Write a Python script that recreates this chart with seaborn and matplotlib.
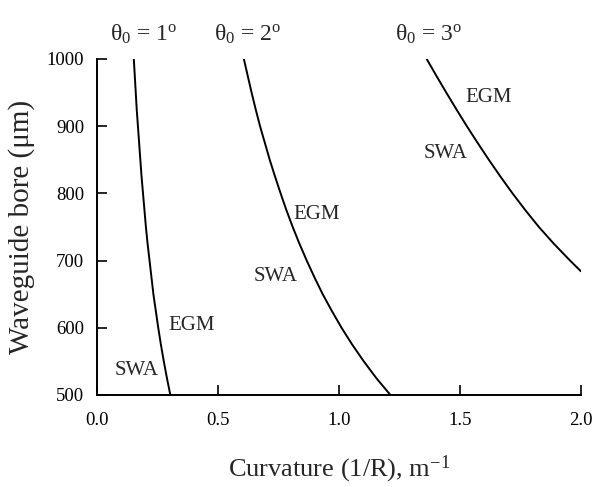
import matplotlib
matplotlib.use("Agg")
import matplotlib.pyplot as plt
import seaborn as sns
import pandas as pd

# Waveguide bore (um) levels and read-off curvature values (1/m)
bore_1 = [1000, 975, 950, 925, 900, 875, 850, 825, 800, 775, 750,
          725, 700, 675, 650, 625, 600, 575, 550, 525, 500]
curv_1 = [0.151, 0.155, 0.159, 0.163, 0.168, 0.173, 0.178, 0.183, 0.189, 0.195, 0.201,
          0.208, 0.216, 0.224, 0.232, 0.242, 0.252, 0.263, 0.275, 0.288, 0.302]

bore_2 = [1000, 975, 950, 925, 900, 875, 850, 825, 800, 775, 750,
          725, 700, 675, 650, 625, 600, 575, 550, 525, 500]
curv_2 = [0.606, 0.622, 0.638, 0.655, 0.673, 0.693, 0.713, 0.735, 0.758, 0.782, 0.808,
          0.836, 0.866, 0.898, 0.932, 0.970, 1.010, 1.054, 1.102, 1.154, 1.212]

bore_3 = [1000, 975, 950, 925, 900, 875, 850, 825, 800, 775, 750, 725, 700, 684]
curv_3 = [1.362, 1.402, 1.443, 1.485, 1.528, 1.573, 1.619, 1.667, 1.717, 1.770, 1.826,
          1.888, 1.955, 2.000]

curve_titles = [r"θ$_0$ = 1$^{\mathrm{o}}$", r"θ$_0$ = 2$^{\mathrm{o}}$", r"θ$_0$ = 3$^{\mathrm{o}}$"]
title_x = [0.19, 0.62, 1.37]

labels = ["SWA", "EGM", "EGM", "SWA", "EGM", "SWA"]
label_x = [0.162, 0.392, 0.907, 0.739, 1.618, 1.442]
label_y = [537, 603, 769, 676, 943, 860]

x_ticks = [0.0, 0.5, 1.0, 1.5, 2.0]
x_ticklabels = ["0.0", "0.5", "1.0", "1.5", "2.0"]
y_ticks = [500, 600, 700, 800, 900, 1000]

sns.set_theme(style="ticks")
plt.rcParams["font.family"] = ["Liberation Serif", "DejaVu Serif"]
plt.rcParams["mathtext.fontset"] = "custom"
plt.rcParams["mathtext.rm"] = "Liberation Serif"
plt.rcParams["mathtext.it"] = "Liberation Serif:italic"

fig = plt.figure(figsize=(5.94, 4.87), dpi=100)
ax = fig.add_axes([0.1638, 0.189, 0.8142, 0.690])

frames = []
for i, (b, c) in enumerate([(bore_1, curv_1), (bore_2, curv_2), (bore_3, curv_3)]):
    frames.append(pd.DataFrame({"curv": c, "bore": b, "theta": i + 1}))
df = pd.concat(frames, ignore_index=True)

for th, sub in df.groupby("theta"):
    sns.lineplot(data=sub, x="curv", y="bore", sort=False, estimator=None,
                 color="black", linewidth=1.4, ax=ax, legend=False)

ax.set_xlim(0, 2.0)
ax.set_ylim(500, 1000)
ax.set_xticks(x_ticks)
ax.set_xticklabels(x_ticklabels)
ax.set_yticks(y_ticks)
ax.tick_params(direction="in", length=7, width=1.2, labelsize=13.5, colors="black")
ax.tick_params(axis="x", pad=12)
ax.tick_params(axis="y", pad=9.5)
for s in ["top", "right"]:
    ax.spines[s].set_visible(False)
for s in ["left", "bottom"]:
    ax.spines[s].set_linewidth(1.4)
    ax.spines[s].set_color("black")

ax.set_xlabel("Curvature (1/R), m$^{\\mathrm{-1}}$", fontsize=19, labelpad=18)
ax.set_ylabel("Waveguide bore (μm)", fontsize=21, labelpad=8)

for t, x in zip(curve_titles, title_x):
    ax.text(x, 1036, t, fontsize=17, ha="center", va="center", clip_on=False)
for t, x, y in zip(labels, label_x, label_y):
    ax.text(x, y, t, fontsize=15, ha="center", va="center")

fig.savefig("out.png", dpi=100, facecolor="white")
